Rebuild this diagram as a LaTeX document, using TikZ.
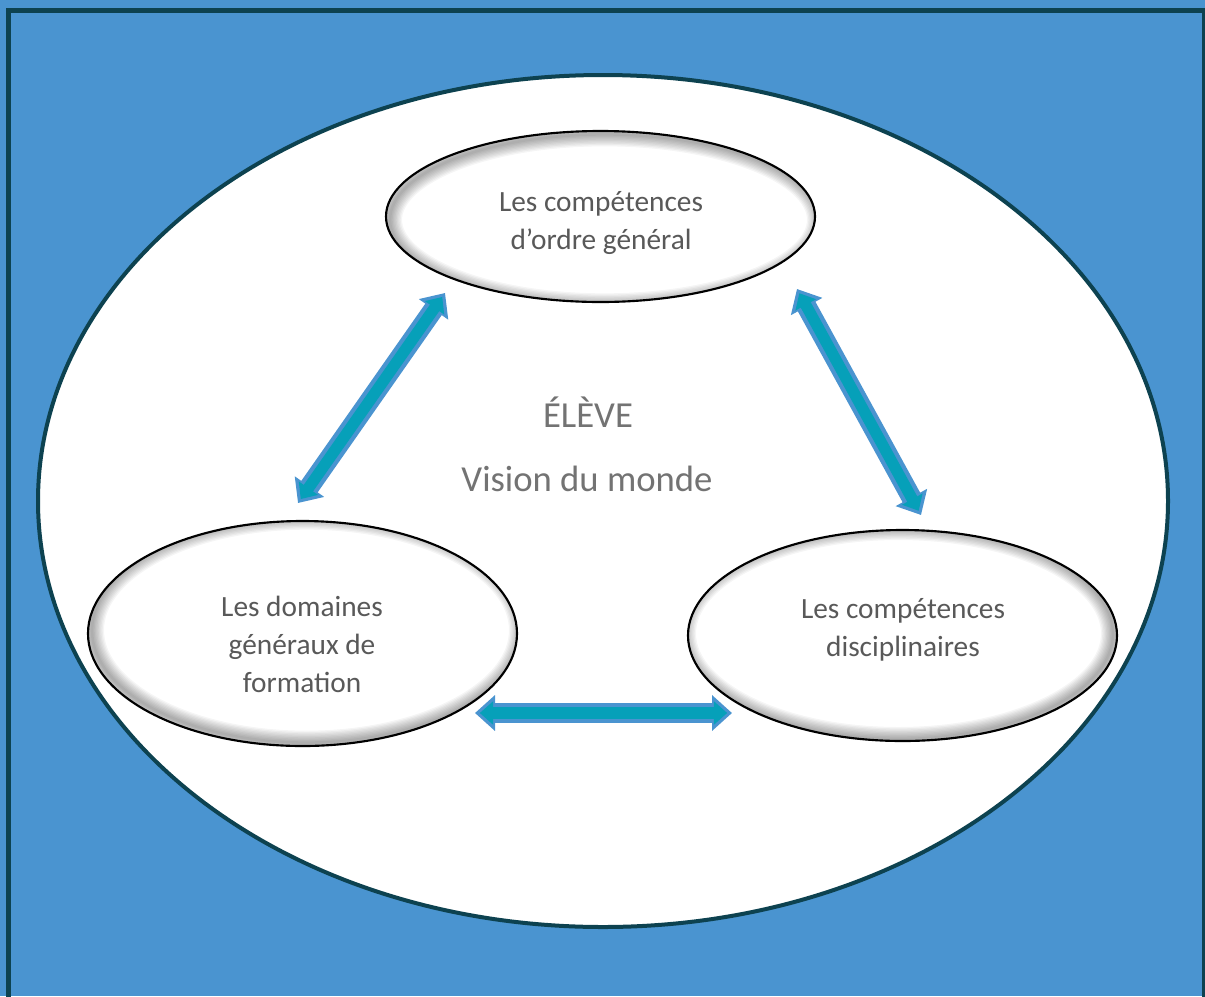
\documentclass[tikz,border=0pt]{standalone}
\usepackage{fontspec}
\setmainfont{Carlito}
\usetikzlibrary{arrows.meta,shapes.geometric}
\definecolor{bgblue}{HTML}{4A94D0}
\definecolor{framecol}{HTML}{0D4250}
\definecolor{tealin}{HTML}{06A0B9}
\definecolor{txtgray}{HTML}{595959}
\definecolor{txtlight}{HTML}{737373}
\begin{document}
\begin{tikzpicture}[x=0.75pt,y=-0.75pt,
  shell/.style n args={4}{ellipse, draw=black, line width=1.6pt, fill=white,
    minimum width=#1, minimum height=#2, inner sep=0pt,
    path picture={
      \foreach \w in {2,4,...,18}
        \draw[black, opacity=0.04, line width=\w pt]
          ([xshift=#3,yshift=#4]path picture bounding box.center) ellipse [x radius=#1/2, y radius=#2/2];
    }},
  label/.style={text=txtgray, align=center, font=\fontsize{22}{28.5}\selectfont},
  big/.style={text=txtlight, font=\fontsize{27.5}{32}\selectfont},
  outerarrow/.style={draw=bgblue, line width=15pt,
    {Triangle[length=15pt,width=26pt]}-{Triangle[length=15pt,width=26pt]}},
  innerarrow/.style={draw=tealin, line width=8.5pt, shorten <=3.6pt, shorten >=3.6pt,
    {Triangle[length=10pt,width=17pt]}-{Triangle[length=10pt,width=17pt]}}
]
\useasboundingbox (0,0) rectangle (1205,996);
\fill[bgblue] (0,0) rectangle (1205,996);
\draw[framecol, line width=3.75pt] (8.5,1010) -- (8.5,10.5) -- (1204,10.5) -- (1204,1010);
\node[ellipse, draw=framecol, line width=3pt, fill=white, minimum width=847.5pt,
  minimum height=639pt, inner sep=0pt] (world) at (603,501) {};

\node[shell={321.75pt}{128.25pt}{3pt}{-2.5pt}] (top) at (600.5,216.5) {};
\node[shell={321.75pt}{168.75pt}{3pt}{2.5pt}] (left) at (302.5,633.5) {};
\node[shell={321.75pt}{158.25pt}{-3pt}{1.5pt}] (right) at (902.5,635.5) {};

\node[label] (toptxt) at (601,223) {Les compétences\\d’ordre général};
\node[label] (lefttxt) at (302,644) {Les domaines\\généraux de\\formation};
\node[label] (righttxt) at (903,630) {Les compétences\\disciplinaires};

\node[big] (eleve) at (588,412) {ÉLÈVE};
\node[big] (vision) at (587,479) {Vision du monde};

\coordinate (a1) at (298,503);
\coordinate (a2) at (445,293);
\coordinate (b1) at (797,289);
\coordinate (b2) at (921,515);
\coordinate (c1) at (475,713);
\coordinate (c2) at (732,713);

\draw[outerarrow] (a1) -- (a2);
\draw[innerarrow] (a1) -- (a2);
\draw[outerarrow] (b1) -- (b2);
\draw[innerarrow] (b1) -- (b2);
\draw[outerarrow] (c1) -- (c2);
\draw[innerarrow] (c1) -- (c2);
\end{tikzpicture}
\end{document}
